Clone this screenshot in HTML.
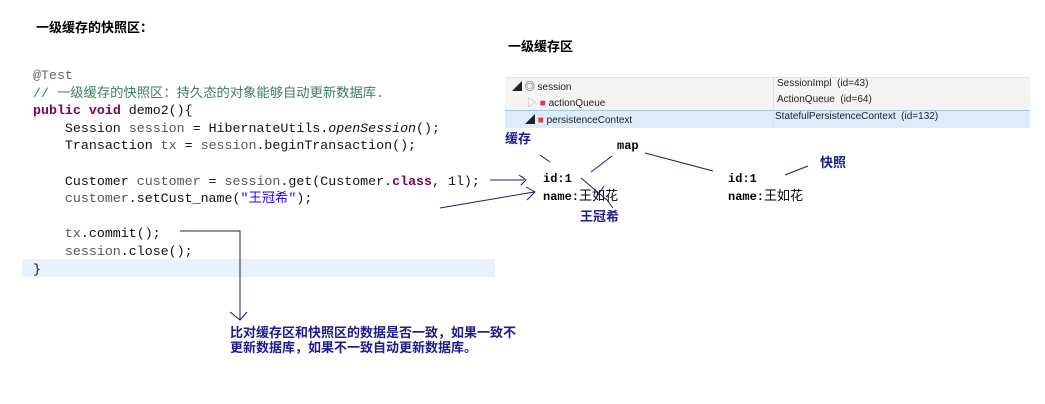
<!DOCTYPE html>
<html><head><meta charset="utf-8"><style>
body{margin:0;width:1045px;height:404px;background:#fff;position:relative;overflow:hidden;font-family:"Liberation Sans","Noto Sans CJK SC",sans-serif}
.a{position:absolute;white-space:pre}
.c{font-family:"Liberation Mono","Noto Sans CJK SC",monospace;font-size:13.3px;color:#111}
.k{color:#7f0055;font-weight:bold}
.f{color:#555}
.g{color:#3f7f5f}
.s{color:#2a00ff}
.t{font-size:10px;color:#222}
.b{color:#1c1c8a;font-weight:bold;font-size:13px}
.m{font-family:"Liberation Mono","Noto Sans CJK SC",monospace;font-weight:bold;font-size:12px}
</style></head><body>
<div class="a" style="left:36px;top:17px;font-size:13px;font-weight:bold">一级缓存的快照区：</div>
<div class="a" style="left:22px;top:259px;width:473px;height:18px;background:#e8f2fe"></div>
<div class="a c" style="left:33px;top:67px;line-height:17.6px"><span style="color:#646464">@Test</span>
<span class="g">// 一级缓存的快照区：持久态的对象能够自动更新数据库.</span>
<span class="k">public</span> <span class="k">void</span> demo2(){
    Session <span class="f">session</span> = HibernateUtils.<i>openSession</i>();
    Transaction <span class="f">tx</span> = <span class="f">session</span>.beginTransaction();

    Customer <span class="f">customer</span> = <span class="f">session</span>.get(Customer.<span class="k">class</span>, 1l);
    <span class="f">customer</span>.setCust_name(<span class="s">"王冠希"</span>);

    <span class="f">tx</span>.commit();
    <span class="f">session</span>.close();
}</div>
<div class="a" style="left:508px;top:36px;font-size:13px;font-weight:bold">一级缓存区</div>
<div class="a" style="left:505px;top:77px;width:525px;height:33px;background:#f4f4f4;border-top:1px solid #e4e4e4"></div>
<div class="a" style="left:505px;top:110px;width:525px;height:17px;background:#dcecf8;border-top:1px solid #9ecae8"></div>
<div class="a" style="left:773px;top:77px;width:1px;height:50px;background:#ddd"></div>
<div class="a t" style="left:512px;top:78px">◢ ◎ session</div>
<div class="a t" style="left:527px;top:94px"><span style="color:#aaa">▷</span> <span style="color:#d04050">■</span> actionQueue</div>
<div class="a t" style="left:525px;top:111px">◢ <span style="color:#d04050">■</span> persistenceContext</div>
<div class="a t" style="left:777px;top:78px">SessionImpl  (id=43)</div>
<div class="a t" style="left:777px;top:94px">ActionQueue  (id=64)</div>
<div class="a t" style="left:775px;top:111px">StatefulPersistenceContext  (id=132)</div>
<div class="a b" style="left:505px;top:128px">缓存</div>
<div class="a m" style="left:617px;top:139px">map</div>
<div class="a b" style="left:820px;top:152px">快照</div>
<div class="a m" style="left:543px;top:172px">id:1</div>
<div class="a m" style="left:543px;top:185px">name:<span style="font-weight:normal;font-size:13px">王如花</span></div>
<div class="a b" style="left:580px;top:206px">王冠希</div>
<div class="a m" style="left:728px;top:172px">id:1</div>
<div class="a m" style="left:728px;top:185px">name:<span style="font-weight:normal;font-size:13px">王如花</span></div>
<div class="a b" style="left:230px;top:325px;line-height:15px">比对缓存区和快照区的数据是否一致，如果一致不
更新数据库，如果不一致自动更新数据库。</div>
<svg class="a" style="left:0;top:0" width="1045" height="404"><g stroke="#1c1c6a" stroke-width="1" fill="none">
<path d="M490 180 H524 M519 175 L526 180 L521 185"/>
<path d="M440 208 L534 192 M526 187 L535 192 L527 200"/>
<path d="M180 231 H240 V320 M230 312 L240 320 L247 312"/>
<path d="M540 155 L550 162"/>
<path d="M591 172 L612 156"/>
<path d="M645 153 L713 171"/>
<path d="M785 175 L808 166"/>
<path d="M581 178 L607 200 L613 208"/>
<path d="M594 201 L604 186"/>
</g></svg>
</body></html>
